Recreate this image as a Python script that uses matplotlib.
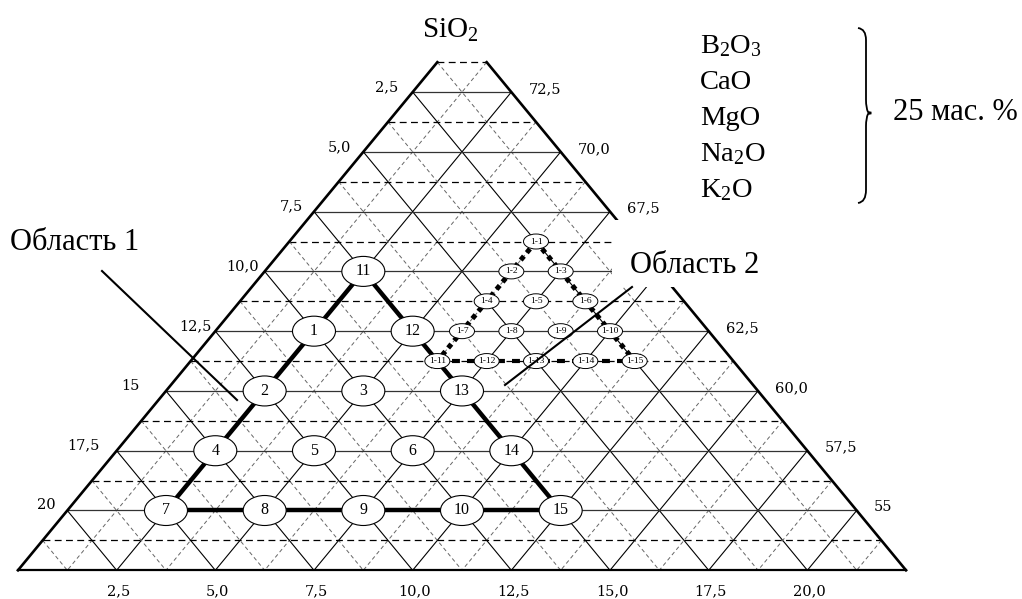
import numpy as np
import matplotlib.pyplot as plt
from matplotlib.patches import Ellipse, Rectangle, PathPatch
from matplotlib.path import Path

plt.rcParams['font.family'] = ['Liberation Serif', 'DejaVu Serif']
plt.rcParams['mathtext.fontset'] = 'custom'
plt.rcParams['mathtext.rm'] = 'Liberation Serif'
plt.rcParams['mathtext.it'] = 'Liberation Serif:italic'

# ternary section: SiO2 apex = 75 %, the two other axes run 0 ... 22.5 %
SPAN = 22.5
STEP = 1.25

# axis labels
left_vals = [2.5, 5.0, 7.5, 10.0, 12.5, 15.0, 17.5, 20.0]
left_text = ["2,5", "5,0", "7,5", "10,0", "12,5", "15", "17,5", "20"]
right_vals = [72.5, 70.0, 67.5, 62.5, 60.0, 57.5, 55.0]
right_text = ["72,5", "70,0", "67,5", "62,5", "60,0", "57,5", "55"]
bottom_vals = [2.5, 5.0, 7.5, 10.0, 12.5, 15.0, 17.5, 20.0]
bottom_text = ["2,5", "5,0", "7,5", "10,0", "12,5", "15,0", "17,5", "20,0"]

# compositions, area 1 (L = left-axis oxide, R = bottom-axis oxide)
main_names = [str(i) for i in range(1, 16)]
main_L = [10, 12.5, 10, 15, 12.5, 10, 17.5, 15, 12.5, 10, 7.5, 7.5, 7.5, 7.5, 7.5]
main_R = [2.5, 2.5, 5, 2.5, 5, 7.5, 2.5, 5, 7.5, 10, 2.5, 5, 7.5, 10, 12.5]

# compositions, area 2
sub_names = ["1-%d" % i for i in range(1, 16)]
sub_L = [2.5, 3.75, 2.5, 5, 3.75, 2.5, 6.25, 5, 3.75, 2.5, 7.5, 6.25, 5, 3.75, 2.5]
sub_R = [6.25, 6.25, 7.5, 6.25, 7.5, 8.75, 6.25, 7.5, 8.75, 10, 6.25, 7.5, 8.75, 10, 11.25]

oxides = ["B$_2$O$_3$", "CaO", "MgO", "Na$_2$O", "K$_2$O"]

# page layout (pixel position of apex and size of one unit)
X0, Y0, SX, SY = 462.0, 32.3, 39.47, 23.91
W, H = 1022, 599


def tern(L, R):
    L = np.asarray(L, float)
    R = np.asarray(R, float)
    return (R - L) / 2.0, L + R


def px(x, y):
    return (x - X0) / SX, (y - Y0) / SY


fig = plt.figure(figsize=(W / 100, H / 100), dpi=100)
ax = fig.add_axes([0, 0, 1, 1])
ax.set_xlim(-X0 / SX, (W - X0) / SX)
ax.set_ylim((H - Y0) / SY, -Y0 / SY)
ax.axis("off")

n = int(round(SPAN / STEP))
for k in range(1, n):
    v = k * STEP
    solid = (k % 2 == 0)
    # horizontal (iso-SiO2)
    x, y = tern([v, 0], [0, v])
    if solid:
        ax.plot(x, y, color="#333333", lw=0.9, zorder=1)
    else:
        ax.plot(x, y, color="black", lw=0.9, ls=(0, (5.5, 3.5)), zorder=1)
    # both diagonals
    for xs, ys in (tern([v, v], [0, SPAN - v]), tern([0, SPAN - v], [v, v])):
        if solid:
            ax.plot(xs, ys, color="black", lw=0.8, zorder=1)
        else:
            ax.plot(xs, ys, color="#666666", lw=0.7, ls=(0, (4, 3)), zorder=1)

# triangle border (top is cut at the first dashed line)
x, y = tern([STEP, SPAN], [0, 0])
ax.plot(x, y, color="black", lw=1.9, zorder=2)
x, y = tern([0, 0], [STEP, SPAN])
ax.plot(x, y, color="black", lw=1.9, zorder=2)
x, y = tern([SPAN, 0], [0, SPAN])
ax.plot(x, y, color="black", lw=1.6, zorder=2)

# area 1 contour
mL = dict(zip(main_names, main_L))
mR = dict(zip(main_names, main_R))
for chain in (["11", "1", "2", "4", "7"], ["7", "8", "9", "10", "15"],
              ["11", "12", "13", "14", "15"]):
    x, y = tern([mL[c] for c in chain], [mR[c] for c in chain])
    ax.plot(x, y, color="black", lw=3.2, solid_capstyle="butt", zorder=2)

# area 2 contour
sL = dict(zip(sub_names, sub_L))
sR = dict(zip(sub_names, sub_R))
for chain in (["1-1", "1-2", "1-4", "1-7", "1-11"], ["1-1", "1-3", "1-6", "1-10", "1-15"]):
    x, y = tern([sL[c] for c in chain], [sR[c] for c in chain])
    ax.plot(x, y, color="black", lw=3.6, ls=(0, (1, 0.9)), zorder=2)
chain = ["1-11", "1-12", "1-13", "1-14", "1-15"]
x, y = tern([sL[c] for c in chain], [sR[c] for c in chain])
ax.plot(x, y, color="black", lw=3.0, ls=(0, (1.9, 1.7)), zorder=2)

# point markers
xm, ym = tern(main_L, main_R)
for name, a, b in zip(main_names, xm, ym):
    ax.add_patch(Ellipse((a, b), 43 / SX, 30 / SY, facecolor="white",
                         edgecolor="black", lw=0.8, zorder=3))
    ax.text(a, b, name, ha="center", va="center", fontsize=11.5, zorder=4)

xs_, ys_ = tern(sub_L, sub_R)
for name, a, b in zip(sub_names, xs_, ys_):
    ax.add_patch(Ellipse((a, b), 25 / SX, 15 / SY, facecolor="white",
                         edgecolor="black", lw=0.7, zorder=3))
    ax.text(a, b, name, ha="center", va="center", fontsize=6.8, zorder=4)

# axis labels
left_gap = [14, 12, 11, 6, 4, 26, 17, 12]
for v, t, g in zip(left_vals, left_text, left_gap):
    a, b = tern(v, 0)
    ax.text(a - g / SX, b - 5 / SY, t, ha="right", va="center",
            fontsize=10.5, family="DejaVu Serif")
for v, t in zip(right_vals, right_text):
    a, b = tern(0, 75 - v)
    ax.text(a + 17 / SX, b - 3 / SY, t, ha="left", va="center",
            fontsize=10.5, family="DejaVu Serif")
for v, t in zip(bottom_vals, bottom_text):
    a, b = tern(SPAN - v, v)
    ax.text(a + 2 / SX, b + 21 / SY, t, ha="center", va="center",
            fontsize=10.5, family="DejaVu Serif")

# titles and annotations
ax.text(*px(422, 38), "SiO$_2$", fontsize=21, ha="left", va="baseline")

ax.text(*px(10, 250), "Область 1", fontsize=22, ha="left", va="baseline")
ax.plot(*zip(px(102, 271), px(237, 400)), color="black", lw=1.5, zorder=6)

(bx0, by0), (bx1, by1) = px(612, 220), px(800, 287)
ax.add_patch(Rectangle((bx0, by0), bx1 - bx0, by1 - by0, facecolor="white",
                       edgecolor="none", zorder=5))
ax.text(*px(630, 273), "Область 2", fontsize=22, ha="left", va="baseline", zorder=6)
ax.plot(*zip(px(632, 287), px(505, 385)), color="black", lw=1.5, zorder=6)

for i, ox in enumerate(oxides):
    ax.text(*px(700, 53 + 36 * i), ox, fontsize=20.5, ha="left", va="baseline")

# curly brace
pts = [px(858, 28), px(866, 29), px(866, 40), px(866, 100), px(866, 108),
       px(868, 112), px(875, 113), px(868, 114), px(866, 118), px(866, 126),
       px(866, 190), px(866, 202), px(858, 203)]
codes = [Path.MOVETO, Path.CURVE3, Path.CURVE3, Path.LINETO, Path.CURVE3,
         Path.CURVE3, Path.CURVE3, Path.CURVE3, Path.CURVE3, Path.CURVE3,
         Path.LINETO, Path.CURVE3, Path.CURVE3]
ax.add_patch(PathPatch(Path(pts, codes), facecolor="none", edgecolor="black", lw=1.3))
ax.text(*px(893, 120), "25 мас. %", fontsize=22, ha="left", va="baseline")

fig.savefig("out.png", dpi=100)
